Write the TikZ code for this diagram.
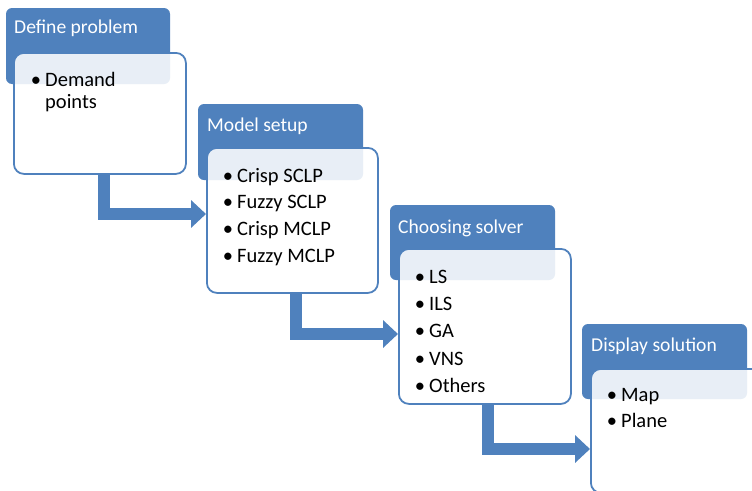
\documentclass[tikz,border=0pt]{standalone}
\usepackage{fontspec}
\setmainfont{Carlito}
\usetikzlibrary{arrows.meta,calc}
\definecolor{stepblue}{HTML}{4F81BD}
\newcommand{\bul}{\llap{•\kern4pt}}
\begin{document}
\begin{tikzpicture}[x=1pt,y=-1pt,
  hdr/.style={fill=stepblue, rounded corners=6pt, anchor=north west, inner sep=0pt, outer sep=0pt},
  body/.style={draw=stepblue, line width=1.8pt, fill=white, fill opacity=0.87,
    rounded corners=10pt, anchor=north west, inner sep=0pt},
  htext/.style={text=white, font=\fontsize{19.6}{22}\selectfont, anchor=base west, inner sep=0pt},
  item/.style={text=black, font=\fontsize{20.5}{24}\selectfont, anchor=base west, inner sep=0pt},
  flow/.style={draw=stepblue, line width=12pt, line join=miter,
    -{Triangle[length=15pt,width=27pt]}}]
\useasboundingbox (0,0) rectangle (752,490);
\clip (0,0) rectangle (752,490);

% step 1
\node[hdr, minimum width=164pt, minimum height=76pt] (h1) at (6,8) {};
\node[htext] (t1) at (14,33) {Define problem};
\node[body, minimum width=172pt, minimum height=121pt] (b1) at (13,52) {};
\node[item] (b1a) at (45,86) {\bul Demand};
\node[item] (b1b) at (45,108) {points};

% step 2
\node[hdr, minimum width=165pt, minimum height=76pt] (h2) at (198,104) {};
\node[htext] (t2) at (207,131) {Model setup};
\node[body, minimum width=171pt, minimum height=145pt] (b2) at (206,147) {};
\node[item] (b2a) at (237,182) {\bul Crisp SCLP};
\node[item] (b2b) at (237,208) {\bul Fuzzy SCLP};
\node[item] (b2c) at (237,235) {\bul Crisp MCLP};
\node[item] (b2d) at (237,262) {\bul Fuzzy MCLP};

% step 3
\node[hdr, minimum width=165pt, minimum height=75pt] (h3) at (390,205) {};
\node[htext] (t3) at (398,233) {Choosing solver};
\node[body, minimum width=172pt, minimum height=155pt] (b3) at (398,248) {};
\node[item] (b3a) at (429,283) {\bul LS};
\node[item] (b3b) at (429,310) {\bul ILS};
\node[item] (b3c) at (429,337) {\bul GA};
\node[item] (b3d) at (429,365) {\bul VNS};
\node[item] (b3e) at (429,392) {\bul Others};

% step 4
\node[hdr, minimum width=165pt, minimum height=75pt] (h4) at (582,324) {};
\node[htext] (t4) at (591,351) {Display solution};
\node[body, minimum width=175pt, minimum height=124pt] (b4) at (590,368) {};
\node[item] (b4a) at (621,401) {\bul Map};
\node[item] (b4b) at (621,427) {\bul Plane};

% flow arrows between the steps
\draw[flow] ($(b1.south west)+(91,0)$) |- ($(b2.north west)+(0,67)$);
\draw[flow] ($(b2.south west)+(90,0)$) |- ($(b3.north west)+(0,86)$);
\draw[flow] ($(b3.south west)+(90,0)$) |- ($(b4.north west)+(0,81)$);
\end{tikzpicture}
\end{document}
